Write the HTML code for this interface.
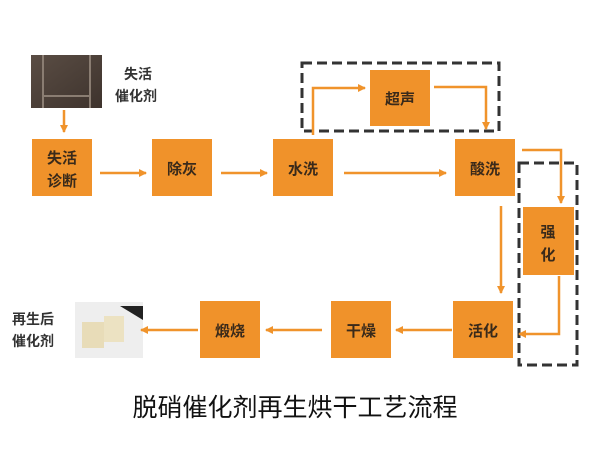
<!DOCTYPE html>
<html><head><meta charset="utf-8"><style>
html,body{margin:0;padding:0;background:#fff;}
svg{display:block;}
text{font-family:"Liberation Sans","Noto Sans CJK SC",sans-serif;}
</style></head><body>
<svg width="600" height="450" viewBox="0 0 600 450" xmlns="http://www.w3.org/2000/svg">
<defs>
<marker id="a" markerWidth="8" markerHeight="8" refX="7" refY="4" orient="auto" markerUnits="userSpaceOnUse">
<path d="M0,0 L8,4 L0,8 z" fill="#f0932b"/></marker>
<linearGradient id="g1" x1="0" y1="0" x2="1" y2="1"><stop offset="0" stop-color="#5a4d44"/><stop offset="1" stop-color="#3e332d"/></linearGradient>
</defs>
<rect x="31" y="55" width="71" height="53" fill="url(#g1)"/>
<line x1="43" y1="55" x2="43" y2="108" stroke="#8a7d72" stroke-width="2"/>
<line x1="90" y1="55" x2="90" y2="108" stroke="#8a7d72" stroke-width="2"/>
<line x1="43" y1="96" x2="90" y2="96" stroke="#8a7d72" stroke-width="2"/>
<text x="124" y="79" font-size="14" font-weight="bold" fill="#333">失活</text>
<text x="115" y="101" font-size="14" font-weight="bold" fill="#333">催化剂</text>
<rect x="75" y="302" width="68" height="56" fill="#eeeeee"/>
<polygon points="120,306 143,306 143,320" fill="#222"/>
<rect x="82" y="322" width="22" height="26" fill="#e8dcb8"/>
<rect x="104" y="316" width="20" height="26" fill="#ece2c2"/>
<text x="12" y="324" font-size="14" font-weight="bold" fill="#333">再生后</text>
<text x="12" y="346" font-size="14" font-weight="bold" fill="#333">催化剂</text>
<rect x="302" y="63" width="197" height="68" fill="none" stroke="#333" stroke-width="3" stroke-dasharray="10,5"/>
<rect x="519" y="163" width="58" height="202" fill="none" stroke="#333" stroke-width="3" stroke-dasharray="10,5"/>
<g fill="#f0922a">
<rect x="32" y="139" width="60" height="57"/>
<rect x="152" y="139" width="60" height="57"/>
<rect x="273" y="139" width="60" height="57"/>
<rect x="455" y="139" width="60" height="57"/>
<rect x="370" y="70" width="60" height="56"/>
<rect x="523" y="207" width="51" height="68"/>
<rect x="453" y="301" width="60" height="57"/>
<rect x="331" y="301" width="60" height="57"/>
<rect x="200" y="301" width="60" height="57"/>
</g>
<g font-size="15" font-weight="bold" fill="#3a2a1a" text-anchor="middle">
<text x="62" y="163">失活</text><text x="62" y="186">诊断</text>
<text x="182" y="174">除灰</text>
<text x="303" y="174">水洗</text>
<text x="485" y="174">酸洗</text>
<text x="400" y="104">超声</text>
<text x="548" y="237">强</text><text x="548" y="260">化</text>
<text x="483" y="336">活化</text>
<text x="361" y="336">干燥</text>
<text x="230" y="336">煅烧</text>
</g>
<g stroke="#f0932b" stroke-width="2.5" fill="none" marker-end="url(#a)">
<line x1="64" y1="110" x2="64" y2="132"/>
<line x1="100" y1="173" x2="146" y2="173"/>
<line x1="221" y1="173" x2="267" y2="173"/>
<line x1="344" y1="173" x2="446" y2="173"/>
<polyline points="313,135 313,88 365,88"/>
<polyline points="434,87 486,87 486,129"/>
<polyline points="522,150 561,150 561,203"/>
<line x1="501" y1="206" x2="501" y2="293"/>
<polyline points="559,276 559,334 519,334"/>
<line x1="452" y1="330" x2="396" y2="330"/>
<line x1="322" y1="330" x2="266" y2="330"/>
<line x1="198" y1="330" x2="141" y2="330"/>
</g>
<text x="295" y="416" font-size="25" fill="#111" text-anchor="middle">脱硝催化剂再生烘干工艺流程</text>
</svg>
</body></html>
